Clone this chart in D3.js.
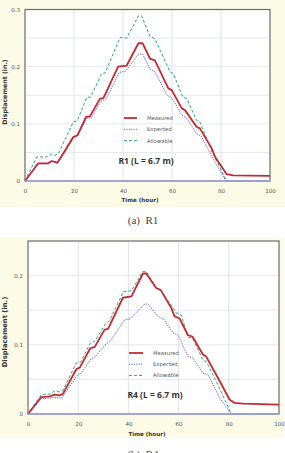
<!DOCTYPE html>
<html lang="en">
<head>
    <meta charset="utf-8">
    <script src="https://d3js.org/d3.v7.min.js"></script>
    <style>
        body { margin: 0; background: #fff; }
        svg { display: block; }
    </style>
</head>
<body>
<div id="chart"></div>
<script>
    // Data: [hour, displacement (in.)]
    const r1Measured = [[0,0],[5.4,0.031],[9.5,0.031],[10.9,0.035],[13.2,0.032],[15.6,0.048],[19.7,0.077],[21.4,0.08],
        [24.9,0.112],[26.5,0.113],[30.6,0.144],[32,0.145],[38,0.2],[41.5,0.202],[46.3,0.241],[48,0.241],[51,0.214],
        [53,0.211],[58.5,0.162],[59.9,0.159],[64,0.127],[65.3,0.124],[70,0.095],[71.4,0.092],[76.2,0.057],[77.6,0.042],
        [82.3,0.012],[85,0.01],[100,0.009]];
    const r1Expected = [[0,0],[5.4,0.03],[9.5,0.03],[10.9,0.034],[13.2,0.031],[15.6,0.046],[19.7,0.075],[21.4,0.078],
        [25,0.109],[27,0.111],[31,0.14],[33,0.143],[38.5,0.19],[41,0.192],[46.3,0.222],[48,0.222],[51,0.196],
        [53,0.191],[58,0.15],[60,0.145],[64,0.115],[66,0.11],[70,0.083],[72,0.078],[76,0.045],[78,0.03],[82,0],[100,0]];
    const r1Allowable = [[0,0],[4.8,0.042],[8.8,0.042],[10.9,0.047],[12.2,0.045],[13.6,0.048],[19.7,0.103],[21.4,0.106],
        [25.2,0.146],[26.8,0.147],[31.3,0.188],[32.7,0.189],[38.8,0.251],[41.5,0.25],[46.3,0.289],[47.6,0.289],
        [51,0.253],[53,0.249],[59.2,0.191],[60.5,0.188],[64.4,0.147],[66,0.144],[70,0.106],[71.4,0.103],[76.5,0.05],
        [82.3,0],[100,0]];

    const r4Measured = [[0,0],[5.3,0.0245],[8.6,0.0255],[10.6,0.028],[12.6,0.027],[13.9,0.029],[19.3,0.065],[20.6,0.067],
        [24.8,0.095],[26.6,0.097],[30.5,0.122],[31.9,0.123],[37.8,0.168],[41.2,0.17],[45.8,0.203],[47.1,0.203],
        [51.1,0.182],[52.9,0.179],[57.1,0.153],[58.4,0.141],[60.4,0.138],[63.7,0.114],[65.5,0.112],[69.7,0.086],
        [71,0.083],[75.7,0.052],[80.3,0.021],[82.3,0.016],[85.7,0.015],[100,0.0135]];
    const r4Expected = [[0,0],[5.3,0.022],[8.6,0.023],[10.6,0.024],[13.3,0.023],[19.9,0.057],[21.2,0.059],[25.2,0.08],
        [26.6,0.082],[31.2,0.102],[32.5,0.104],[38.5,0.136],[40.5,0.137],[46.5,0.159],[47.8,0.159],[51.8,0.141],
        [53.8,0.138],[57.8,0.117],[59.8,0.114],[63.7,0.083],[65.7,0.081],[69.7,0.059],[71.7,0.057],[76.4,0.023],
        [81,0],[100,0]];
    const r4Allowable = [[0,0],[5.3,0.028],[8.6,0.029],[10.6,0.033],[12.6,0.032],[13.9,0.034],[19.3,0.074],[20.9,0.075],
        [24.8,0.102],[26.6,0.105],[31,0.131],[32.3,0.134],[38.1,0.177],[41.2,0.178],[45.8,0.206],[47.1,0.206],
        [51.1,0.182],[52.9,0.179],[57.8,0.153],[59.1,0.146],[61.1,0.143],[63.7,0.111],[65.5,0.11],[69.7,0.078],
        [71,0.076],[75.7,0.042],[81,0],[100,0]];

    const xTicks = [0, 20, 40, 60, 80, 100];
    const r1YTicks = [0, 0.1, 0.2, 0.3];
    const r4YTicks = [0, 0.1, 0.2];
    const seriesNames = ["Measured", "Expected", "Allowable"];

    const colors = {Measured: "#c62a30", Expected: "#5c5cd6", Allowable: "#2fa57c"};
    const dashes = {Measured: null, Expected: "1.2,1.2", Allowable: "3,2"};
    const widths = {Measured: 1.8, Expected: 1, Allowable: 1};

    const svg = d3.select("#chart").append("svg")
        .attr("width", 285).attr("height", 453);

    function drawPanel(p) {
        // cream background
        svg.append("rect").attr("x", p.bg[0]).attr("y", p.bg[1])
            .attr("width", p.bg[2]).attr("height", p.bg[3]).attr("fill", "#fbfbe6");

        const x = d3.scaleLinear().domain([0, 100]).range([p.left, p.right]);
        const y = d3.scaleLinear().domain([0, p.yMax]).range([p.bottom, p.top]);

        svg.append("rect").attr("x", p.left).attr("y", p.top)
            .attr("width", p.right - p.left).attr("height", p.bottom - p.top)
            .attr("fill", "#fff");

        // grid
        const g = svg.append("g");
        g.selectAll(".vg").data([20, 40, 60, 80]).join("line")
            .attr("x1", d => x(d)).attr("x2", d => x(d))
            .attr("y1", p.top).attr("y2", p.bottom)
            .attr("stroke", "#dde4ec").attr("stroke-width", 1);
        g.selectAll(".hg").data(d3.range(0.05, p.yMax - 0.001, 0.05)).join("line")
            .attr("x1", p.left).attr("x2", p.right)
            .attr("y1", d => y(d)).attr("y2", d => y(d))
            .attr("stroke", "#e4e8ee").attr("stroke-width", 1);

        // frame
        svg.append("rect").attr("x", p.left).attr("y", p.top)
            .attr("width", p.right - p.left).attr("height", p.bottom - p.top)
            .attr("fill", "none").attr("stroke", "#6b6b6b").attr("stroke-width", 1.2);

        // axes
        const xAxis = svg.append("g").attr("transform", `translate(0,${p.bottom})`)
            .call(d3.axisBottom(x).tickValues(xTicks).tickSize(0).tickPadding(8));
        const yAxis = svg.append("g").attr("transform", `translate(${p.left},0)`)
            .call(d3.axisLeft(y).tickValues(p.yTicks).tickSize(0).tickPadding(5)
                .tickFormat(d => d === 0 ? "0" : d3.format(".1f")(d)));
        [xAxis, yAxis].forEach(a => {
            a.select(".domain").remove();
            a.selectAll("text").attr("font-family", "DejaVu Sans, sans-serif")
                .attr("font-size", 5.5).attr("fill", "#555");
        });

        // series
        const line = d3.line().x(d => x(d[0])).y(d => y(d[1]));
        const data = {Measured: p.measured, Expected: p.expected, Allowable: p.allowable};
        ["Expected", "Allowable", "Measured"].forEach(name => {
            svg.append("path").datum(data[name])
                .attr("d", line)
                .attr("fill", "none")
                .attr("stroke", colors[name])
                .attr("stroke-width", widths[name])
                .attr("stroke-dasharray", dashes[name])
                .attr("stroke-linejoin", "round");
        });
        // zero line drawn in lavender as in the original
        svg.append("line").attr("x1", x(0)).attr("x2", x(100))
            .attr("y1", y(0)).attr("y2", y(0))
            .attr("stroke", "#a3a3e6").attr("stroke-width", 1.4);

        // legend
        const lg = svg.append("g");
        seriesNames.forEach((name, i) => {
            const ly = p.legend[1] + i * p.legendGap;
            lg.append("line").attr("x1", p.legend[0]).attr("x2", p.legend[0] + p.legendLen)
                .attr("y1", ly).attr("y2", ly)
                .attr("stroke", colors[name])
                .attr("stroke-width", name === "Measured" ? 1.8 : 1)
                .attr("stroke-dasharray", dashes[name]);
            lg.append("text").attr("x", p.legend[0] + p.legendLen + 10).attr("y", ly + 2)
                .attr("font-family", "DejaVu Sans, sans-serif").attr("font-size", 5.3)
                .attr("fill", "#555").text(name);
        });

        svg.append("text").attr("x", p.label[0]).attr("y", p.label[1])
            .attr("text-anchor", "middle")
            .attr("font-family", "Open Sans, sans-serif").attr("font-weight", "bold")
            .attr("font-size", p.labelSize).attr("fill", "#333").text(p.name);

        // axis titles
        svg.append("text").attr("x", p.xTitle[0]).attr("y", p.xTitle[1])
            .attr("text-anchor", "middle")
            .attr("font-family", "DejaVu Sans, sans-serif").attr("font-weight", "bold")
            .attr("font-size", 5.6).attr("fill", "#333").text("Time (hour)");
        svg.append("text")
            .attr("transform", `translate(${p.yTitle[0]},${p.yTitle[1]}) rotate(-90)`)
            .attr("text-anchor", "middle")
            .attr("font-family", "DejaVu Sans, sans-serif").attr("font-weight", "bold")
            .attr("font-size", p.yTitleSize).attr("fill", "#333").text("Displacement (in.)");

        // caption
        svg.append("text").attr("x", p.caption[0]).attr("y", p.caption[1])
            .attr("text-anchor", "middle")
            .attr("font-family", "Liberation Serif, serif")
            .attr("font-size", 11).attr("fill", "#444")
            .attr("xml:space", "preserve")
            .text(p.captionText);
    }

    drawPanel({
        bg: [0, 0, 285, 207], left: 25, right: 270, top: 9.5, bottom: 181, yMax: 0.3,
        yTicks: r1YTicks, measured: r1Measured, expected: r1Expected, allowable: r1Allowable,
        legend: [124, 118], legendGap: 11.3, legendLen: 13,
        label: [146, 164], labelSize: 8.5, name: "R1 (L = 6.7 m)",
        xTitle: [140, 202], yTitle: [7, 92], yTitleSize: 6.3,
        caption: [143, 224], captionText: "(a)  R1"
    });
    drawPanel({
        bg: [0, 237, 284, 201], left: 28, right: 279, top: 241, bottom: 414, yMax: 0.25,
        yTicks: r4YTicks, measured: r4Measured, expected: r4Expected, allowable: r4Allowable,
        legend: [129, 353], legendGap: 11.2, legendLen: 14,
        label: [155, 398], labelSize: 8.5, name: "R4 (L = 6.7 m)",
        xTitle: [147, 436], yTitle: [7, 332], yTitleSize: 6.8,
        caption: [143, 458], captionText: "(b)  R4"
    });
</script>
</body>
</html>
